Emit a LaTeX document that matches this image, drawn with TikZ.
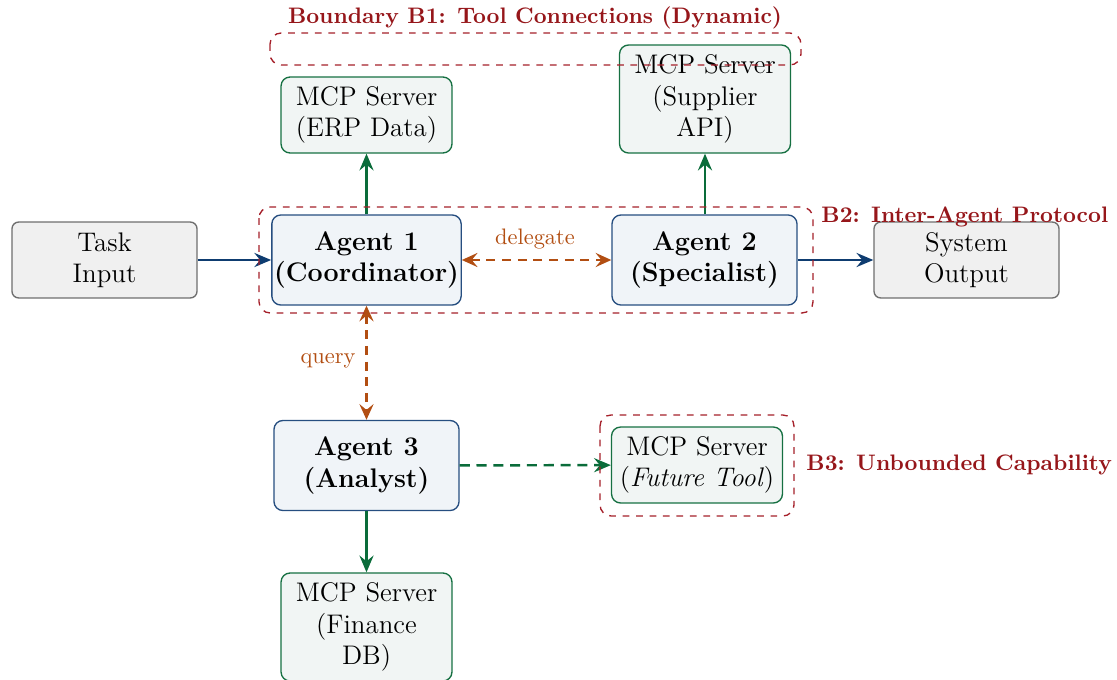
\documentclass[tikz,border=0pt]{standalone}
\usetikzlibrary{arrows.meta}
\definecolor{navy}{RGB}{14,60,112}
\definecolor{agentborder}{RGB}{38,78,128}
\definecolor{agentfill}{RGB}{240,244,248}
\definecolor{mcpborder}{RGB}{22,112,66}
\definecolor{mcpfill}{RGB}{241,245,244}
\definecolor{flowgreen}{RGB}{10,108,58}
\definecolor{orangeflow}{RGB}{178,78,18}
\definecolor{bred}{RGB}{165,32,42}
\definecolor{blabelred}{RGB}{150,22,26}
\definecolor{boxgray}{RGB}{110,110,110}
\definecolor{fillgray}{RGB}{240,240,240}
\begin{document}
\begin{tikzpicture}[x=0.4464pt,y=-0.4464pt,
  graybox/.style={draw=boxgray, fill=fillgray, line width=0.6pt, rounded corners=3pt,
    minimum width=82.6pt, minimum height=33.9pt, align=center, font=\large, inner sep=2pt},
  agentbox/.style={draw=agentborder, fill=agentfill, line width=0.6pt, rounded corners=4pt,
    minimum width=82.6pt, minimum height=40.2pt, align=center, font=\large\bfseries, inner sep=1pt},
  mcpbox/.style={draw=mcpborder, fill=mcpfill, line width=0.6pt, rounded corners=4pt,
    minimum width=76.3pt, minimum height=33.9pt, align=center, font=\large, inner sep=2pt},
  tipshape/.style={},
  flowarrow/.style={-{Stealth[length=7.5pt,width=6.3pt,inset=2.6pt]}, line width=1.1pt},
  twoway/.style={{Stealth[length=7pt,width=6.3pt,inset=2.6pt]}-{Stealth[length=7pt,width=6.3pt,inset=2.6pt]},
    line width=1.1pt, dash pattern=on 4pt off 3pt},
  boundary/.style={draw=bred, dashed, line width=0.6pt, rounded corners=5pt},
  blabel/.style={text=blabelred, font=\bfseries, inner sep=0pt},
  flowlabel/.style={text=orangeflow, inner sep=0pt}
]
\useasboundingbox (0,0) rectangle (1117,679);

% nodes
\node[graybox] (task) at (104.5,260) {Task\\Input};
\node[agentbox] (a1) at (366.5,260) {Agent 1\\(Coordinator)};
\node[agentbox] (a2) at (704.5,260) {Agent 2\\(Specialist)};
\node[graybox] (out) at (966.5,260) {System\\Output};
\node[mcpbox] (erp) at (366.5,115) {MCP Server\\(ERP Data)};
\node[mcpbox, minimum height=48.2pt] (sup) at (705,99) {MCP Server\\(Supplier\\API)};
\node[agentbox] (a3) at (366.5,465.5) {Agent 3\\(Analyst)};
\node[mcpbox] (fut) at (697,465) {MCP Server\\(\textit{Future Tool})};
\node[mcpbox, minimum height=48.2pt] (fin) at (366.5,627) {MCP Server\\(Finance\\DB)};

% connectors
\draw[flowarrow, navy] (task) -- (a1);
\draw[flowarrow, navy] (a2) -- (out);
\draw[flowarrow, flowgreen] (a1) -- (erp);
\draw[flowarrow, flowgreen] (a2.north -| sup.south) -- (sup.south);
\draw[twoway, orangeflow] (a1) -- (a2);
\draw[twoway, orangeflow] (a1) -- (a3);
\draw[flowarrow, flowgreen] (a3) -- (fin);
\draw[flowarrow, flowgreen, dash pattern=on 4.5pt off 3pt] (a3) -- (fut);

% boundaries
\draw[boundary] (270,33) rectangle (801,65);
\draw[boundary] (259,207) rectangle (813,313);
\draw[boundary] (600,415) rectangle (794,516);

% labels
\node[flowlabel] (lbldel) at (535,239) {delegate};
\node[flowlabel] (lblq) at (328,361) {query};
\node[blabel] (lb1) at (535,18) {Boundary B1: Tool Connections (Dynamic)};
\node[blabel, anchor=west] (lb2) at (821,217) {B2: Inter-Agent Protocol};
\node[blabel, anchor=west] (lb3) at (806,465) {B3: Unbounded Capability};
\end{tikzpicture}
\end{document}
